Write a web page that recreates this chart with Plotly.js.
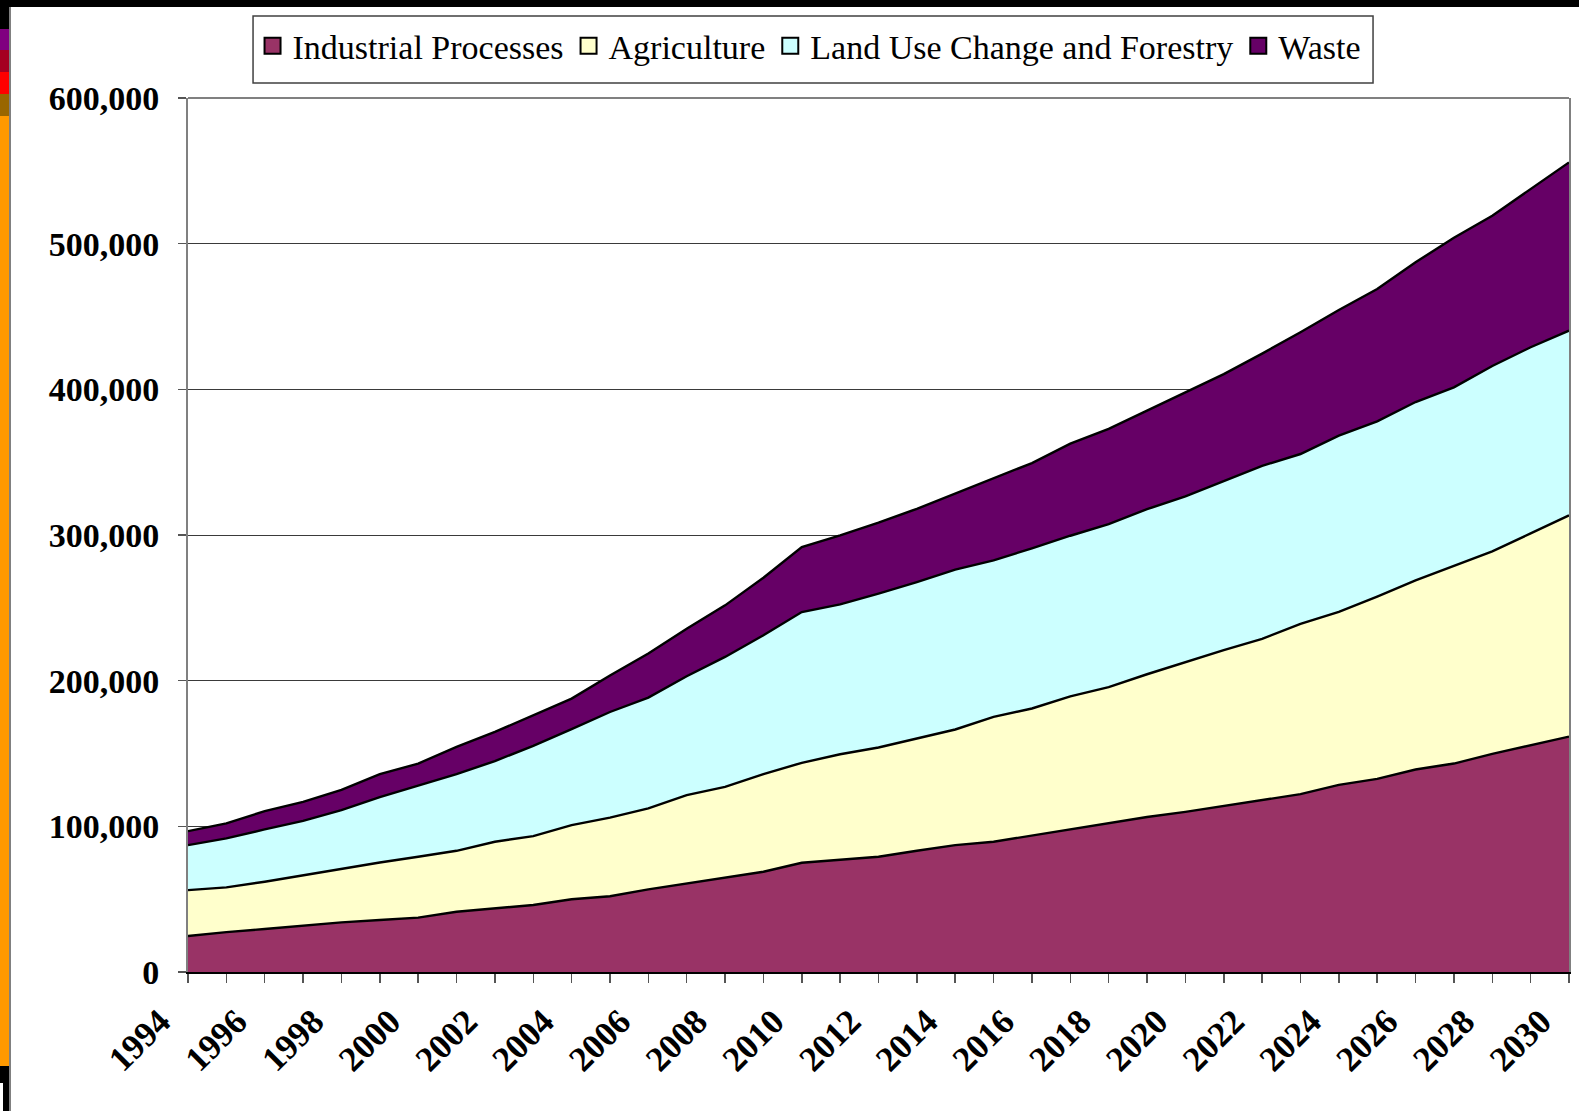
<!DOCTYPE html>
<html>
<head>
<meta charset="utf-8">
<script src="https://cdn.plot.ly/plotly-3.0.1.min.js"></script>
<style>
  html, body { margin: 0; padding: 0; background: #ffffff; }
  #chart { width: 1579px; height: 1111px; position: absolute; left: 0; top: 0; }
  .deco { position: absolute; }
</style>
</head>
<body>
<div id="chart"></div>
<div class="deco" style="left:0;top:0;width:1579px;height:7px;background:#000;"></div>
<div class="deco" style="left:0;top:0;width:9px;height:29px;background:#000;"></div>
<div class="deco" style="left:0;top:29px;width:9px;height:21px;background:#800080;"></div>
<div class="deco" style="left:0;top:50px;width:9px;height:22px;background:#A50021;"></div>
<div class="deco" style="left:0;top:72px;width:9px;height:22px;background:#FF0000;"></div>
<div class="deco" style="left:0;top:94px;width:9px;height:22px;background:#996600;"></div>
<div class="deco" style="left:0;top:116px;width:9px;height:950px;background:#FF9900;"></div>
<div class="deco" style="left:0;top:1066px;width:9px;height:17px;background:#000;"></div>
<div class="deco" style="left:3px;top:1083px;width:6px;height:28px;background:#000;"></div>
<div class="deco" style="left:9px;top:7px;width:2px;height:1104px;background:#808080;"></div>
<script>
const years = [1994, 1995, 1996, 1997, 1998, 1999, 2000, 2001, 2002, 2003, 2004, 2005,
               2006, 2007, 2008, 2009, 2010, 2011, 2012, 2013, 2014, 2015, 2016, 2017,
               2018, 2019, 2020, 2021, 2022, 2023, 2024, 2025, 2026, 2027, 2028, 2029, 2030];

const industrialProcesses = [24700, 27400, 29500, 31800, 34100, 35700, 37300, 41400, 43700, 46000, 49900, 52000,
                             56700, 60800, 65000, 68800, 75000, 77300, 79100, 83200, 87100, 89400, 93700, 98100,
                             102200, 106400, 109900, 113800, 118000, 122100, 128500, 132600, 139000, 143100, 149700, 155500, 161600];

const agriculture = [31500, 30700, 32500, 34700, 37000, 39500, 41800, 41800, 45700, 47300, 50900, 54000,
                     55600, 60600, 62100, 67000, 68600, 72200, 75000, 77100, 79400, 85700, 87200, 91100,
                     93400, 98000, 102800, 107200, 110700, 116900, 118700, 125100, 129800, 135400, 139000, 145600, 151900];

const landUseChange = [30900, 33600, 35900, 37300, 40000, 44800, 48900, 52700, 55400, 62000, 65900, 72500,
                       76100, 81600, 89200, 95400, 103500, 102900, 105700, 107400, 109700, 107500, 109900, 110300,
                       111900, 113300, 113800, 116000, 118800, 116600, 121000, 120300, 122500, 122900, 127300, 127800, 126800];

const waste = [9600, 10300, 12500, 13000, 13900, 15800, 15100, 18600, 20000, 21000, 21000, 25000,
               30200, 32700, 35400, 39500, 44600, 47300, 48700, 50300, 52100, 56000, 58600, 63200,
               65400, 67700, 71500, 73400, 77000, 83600, 86300, 90900, 95900, 102700, 103200, 108300, 115500];

const seriesNames = ['Industrial Processes', 'Agriculture', 'Land Use Change and Forestry', 'Waste'];
const seriesColors = ['#993366', '#FFFFCC', '#CCFFFF', '#660066'];
const seriesValues = [industrialProcesses, agriculture, landUseChange, waste];

const yTickVals = [0, 100000, 200000, 300000, 400000, 500000, 600000];
const yTickText = ['0', '100,000', '200,000', '300,000', '400,000', '500,000', '600,000'];
const xTickVals = [1994, 1996, 1998, 2000, 2002, 2004, 2006, 2008, 2010, 2012, 2014, 2016, 2018, 2020, 2022, 2024, 2026, 2028, 2030];

const serif = 'Liberation Serif, Times New Roman, serif';

const traces = [];
seriesValues.forEach((vals, i) => {
  traces.push({
    type: 'scatter',
    x: years,
    y: vals,
    name: seriesNames[i],
    stackgroup: 'one',
    mode: 'lines',
    line: { color: '#000000', width: 2.4, shape: 'linear' },
    fillcolor: seriesColors[i],
    showlegend: false,
    hoverinfo: 'x+y+name'
  });
});
seriesNames.forEach((nm, i) => {
  traces.push({
    type: 'scatter',
    x: [null],
    y: [null],
    name: nm,
    mode: 'markers',
    marker: { symbol: 'square', size: 21, color: seriesColors[i], line: { color: '#000000', width: 2 } },
    showlegend: true
  });
});

const layout = {
  width: 1579,
  height: 1111,
  paper_bgcolor: '#ffffff',
  plot_bgcolor: '#ffffff',
  margin: { l: 188, r: 10, t: 98, b: 139, pad: 0 },
  font: { family: serif, color: '#000000' },
  showlegend: true,
  legend: {
    orientation: 'h',
    x: 0.4497,
    xanchor: 'center',
    y: 1.0926,
    yanchor: 'top',
    bgcolor: 'rgba(0,0,0,0)',
    borderwidth: 0,
    font: { family: serif, size: 34, color: '#000000' },
    itemwidth: 30,
    traceorder: 'normal'
  },
  xaxis: {
    type: 'linear',
    range: [1994, 2030],
    tickmode: 'array',
    tickvals: xTickVals,
    ticktext: xTickVals.map(String),
    tickangle: -45,
    ticks: 'outside',
    ticklen: 9,
    tickwidth: 1.5,
    tickcolor: '#555555',
    ticklabeloverflow: 'allow',
    ticklabelshift: -28,
    ticklabelstandoff: 4,
    tickfont: { family: serif, size: 35, weight: 'bold', color: '#000000' },
    showgrid: false,
    zeroline: false,
    showline: true,
    linecolor: '#000000',
    linewidth: 2,
    minor: { dtick: 1, tick0: 1994, ticks: 'outside', ticklen: 9, tickwidth: 1.5, tickcolor: '#555555', showgrid: false },
    fixedrange: true
  },
  yaxis: {
    range: [0, 600000],
    tickmode: 'array',
    tickvals: yTickVals,
    ticktext: yTickText,
    ticks: 'outside',
    ticklen: 8,
    tickwidth: 1.5,
    tickcolor: '#555555',
    ticklabelstandoff: 12,
    tickfont: { family: serif, size: 34, weight: 'bold', color: '#000000' },
    showgrid: true,
    gridcolor: '#3a3a3a',
    gridwidth: 1,
    zeroline: false,
    showline: true,
    linecolor: '#808080',
    linewidth: 2,
    mirror: true,
    fixedrange: true
  },
  shapes: [
    { type: 'line', xref: 'paper', yref: 'paper', x0: 0, x1: 1, y0: 1, y1: 1,
      line: { color: '#808080', width: 2 }, layer: 'above' },
    { type: 'rect', xref: 'paper', yref: 'paper', x0: 0.0471, x1: 0.8581, y0: 1.0172, y1: 1.0938,
      fillcolor: '#ffffff', line: { color: '#404040', width: 1.5 }, layer: 'above' }
  ]
};

Plotly.newPlot('chart', traces, layout, { displayModeBar: false, staticPlot: true });
</script>
</body>
</html>
